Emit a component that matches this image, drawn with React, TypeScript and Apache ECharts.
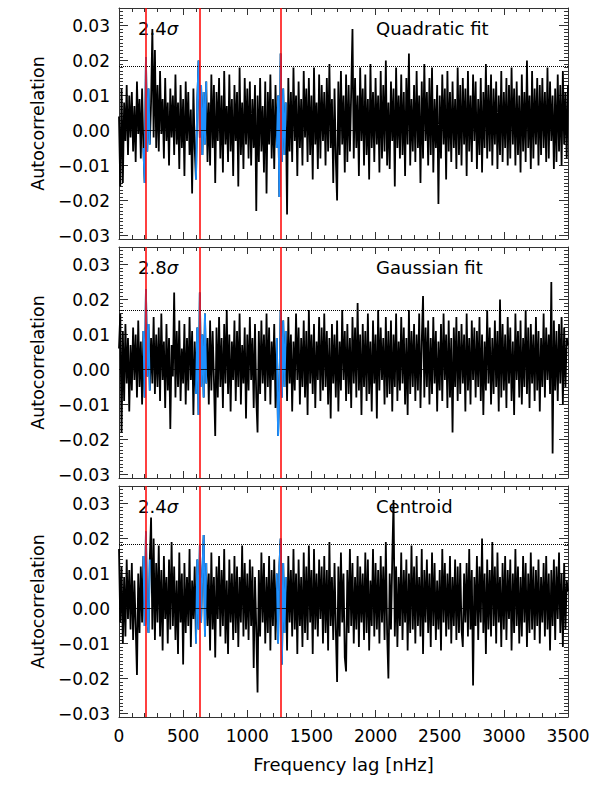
import React, { useEffect, useRef } from "react";
import * as echarts from "echarts";

// Frequency lag grid (nHz)
const LAG_START = 0;
const LAG_STEP = 10;

// Autocorrelation values in units of 1e-3, one per lag step (0 … 3500 nHz)
const QUADRATIC_MILLI = [
  4, -16, 12, -15, 8, -3, 13, -7, 10, -2,
  11, -6, 7, -9, 14, -1, 9, -8, 12, -5,
  -15, 21, -6, 12, -4, 8, 29, -2, 23, -5,
  13, -6, 17, -1, 9, -8, 15, -3, 8, -10,
  12, -2, 10, -7, 16, -4, 8, -11, 13, -5,
  9, -13, 14, -3, 11, -7, 6, -18, 12, -5,
  -14, 8, 20, -2, 13, -7, 11, -4, 14, -9,
  8, -10, 16, -5, 13, -15, 11, -3, 15, -8,
  10, -12, 17, -4, 7, -9, 16, -6, 9, -13,
  13, -3, 11, -16, 18, -7, 8, -11, 15, -4,
  12, -8, 14, -10, 9, -5, 13, -23, 10, -9,
  15, -6, 7, -12, 14, -18, 11, -4, 16, -8,
  9, -11, 13, -5, 10, -19, 22, -9, 12, -7,
  8, -24, 15, -6, 11, -9, 18, -3, 10, -13,
  14, -5, 9, -10, 17, -2, 12, -9, 15, -7,
  10, -14, 18, -4, 8, -11, 16, -8, 13, -3,
  11, -10, 15, -6, 19, -5, 9, -15, 12, -8,
  -20, 14, -7, 17, -4, 10, -12, 16, -9, 13,
  -6, 11, 29, -8, 15, -5, 10, -13, 18, -3,
  12, -10, 16, -7, 9, -14, 19, -5, 11, -9,
  15, -4, 10, -12, 17, -8, 13, -6, 20, -10,
  8, -11, 14, -3, 12, -16, 18, -5, 10, -8,
  16, -7, 11, -13, 15, -4, 22, -10, 9, -6,
  13, -9, 17, -5, 10, -15, 14, -8, 19, -3,
  11, -10, 15, -7, 18, -12, 9, -5, 13, -21,
  10, -8, 16, -4, 12, -14, 17, -6, 11, -9,
  14, -5, 9, -11, 18, -7, 13, -10, 15, -4,
  12, -13, 17, -6, 10, -9, 16, -3, 14, -11,
  9, -7, 15, -12, 11, -5, 19, -8, 13, -6,
  16, -10, 12, -4, 14, -11, 10, -7, 17, -9,
  11, -5, 15, -10, 13, -8, 18, -4, 12, -10,
  14, -7, 10, -12, 16, -6, 11, -9, 20, -5,
  10, -11, 17, -8, 12, -4, 15, -10, 13, -7,
  15, -5, 11, -9, 18, -8, 14, -3, 10, -11,
  12, -9, 16, -6, 13, -10, 17, -4, 11, -8,
  13,
];

const GAUSSIAN_MILLI = [
  6, 16, -18, 11, -9, 13, -4, 9, -12, 7,
  -6, 12, -3, 10, -8, 14, -5, 8, -10, 11,
  -8, 23, -2, 13, -6, 9, -4, 15, -7, 10,
  -5, 12, -9, 16, -3, 8, -11, 13, -6, 9,
  -17, 7, -2, 22, -8, 11, -5, 14, -9, 6,
  -4, 13, -10, 9, -6, 15, -3, 11, -13, 8,
  -7, 12, -13, 22, -5, 10, -8, 16, -4, 9,
  -10, 14, -6, 11, -3, -19, 12, -8, 15, -5,
  9, -11, 13, -4, 17, -7, 10, -12, 8, -3,
  14, -9, 11, -5, 16, -10, 7, -4, 12, -14,
  10, -6, 15, -3, 9, -11, 13, -8, -18, 11,
  -7, 14, -4, 10, -9, 16, -5, 12, -10, 8,
  -3, 13, -11, 9, -19, -6, 17, -8, 14, -5,
  11, -9, 15, -4, 10, -12, 8, -6, 16, -3,
  12, -10, 9, -5, 14, -8, 11, -13, 17, -4,
  10, -7, 13, -11, 8, -3, 15, -9, 12, -6,
  16, -5, 11, -10, 9, -14, 13, -4, 10, -8,
  14, -12, 8, -6, 17, -3, 11, -9, 13, -7,
  9, -11, 15, -4, 12, -8, 19, -6, 10, -13,
  13, -5, 11, -9, 16, -7, 8, -12, 14, -4,
  10, -14, 17, -6, 12, -3, 9, -10, 15, -8,
  11, -7, 14, -12, 10, -5, 16, -9, 8, -6,
  15, -4, 12, -10, 9, -13, 17, -7, 11, -5,
  13, -9, 10, -6, 16, -11, 8, 21, -8, 12,
  -5, 14, -10, 9, -7, 15, -4, 11, -12, 8,
  -6, 13, -9, 16, -3, 10, -11, 14, -8, 9,
  -18, 12, -5, 15, -9, 11, -7, 13, -4, 10,
  -12, 16, -6, 9, -10, 14, -3, 12, -8, 11,
  -5, 15, -9, 10, -13, 8, -6, 17, -4, 12,
  -10, 9, -7, 14, -5, 11, -12, 20, -8, 13,
  -6, 10, -11, 15, -4, 12, -9, 8, -13, 16,
  -3, 11, -8, 14, -10, 9, -5, 17, -7, 12,
  -11, 13, -4, 10, -9, 15, -6, 11, -12, 9,
  -5, 16, -8, 12, -3, 10, -7, 25, -24, 14,
  -6, 11, -9, 13, -4, 15, -10, 12, -5, 9,
  7,
];

const CENTROID_MILLI = [
  17, -4, 12, -10, 9, -8, 14, -3, 11, -6,
  13, -9, 8, -5, -19, 10, -7, 12, -4, 15,
  -5, 22, -3, -7, 14, 26, -6, 20, -9, 13,
  -4, 18, -8, 11, -12, 15, -3, 9, -10, 14,
  -6, 19, -5, 12, -9, 8, -13, 16, -4, 10,
  -16, 13, -7, 9, -5, 17, -11, 8, -3, 12,
  -10, 14, -6, 18, -4, 11, 21, -8, 13, -5,
  10, -12, 16, -6, 9, -14, 12, -3, 15, -8,
  11, -5, 17, -10, 8, -13, 14, -4, 10, -9,
  15, -7, 12, -11, 9, -4, 18, -8, 13, -6,
  10, -9, 14, -5, 12, -17, 9, -6, -24, 11,
  -8, 16, -4, 13, -10, 9, -7, 15, -12, 11,
  -5, 14, -9, 10, -10, 12, 20, -16, 13, -7,
  9, -12, 15, -4, 11, -8, 17, -6, 10, -13,
  14, -5, 9, -11, 16, -7, 12, -9, 18, -4,
  11, -13, 17, -6, 10, -8, 14, -3, 12, -10,
  15, -7, 11, -12, 19, -5, 9, -9, 13, -6,
  -21, 12, -8, 16, -4, 10, -14, -18, 11, -7,
  17, -5, 13, -10, 9, -6, 15, -11, 12, -4,
  10, -9, 16, -7, 14, -12, 8, -5, 17, -8,
  13, -6, 11, -10, 15, -4, 12, -9, 19, -7,
  -20, 10, -6, 14, 31, -8, 12, -11, 9, -5,
  16, -9, 11, -4, 14, -12, 10, -7, 18, -6,
  12, -10, 15, -5, 9, -8, 17, -13, 11, -4,
  14, -7, 10, -11, 16, -5, 13, -9, 8, -6,
  11, -12, 17, -4, 13, -8, 10, -6, 15, -10,
  9, -5, 14, -9, 12, -7, 13, -6, -11, 10,
  -4, 13, -8, 17, -6, 11, -22, 9, -5, 15,
  -9, 12, -4, 20, -7, 10, -13, 14, -6, 11,
  -8, 19, -5, 12, -10, 16, -4, 9, -11, 13,
  -6, 15, -9, 11, -3, 14, -12, 10, -7, 17,
  -5, 12, -10, 9, -8, 15, -4, 13, -11, 10,
  -7, 16, -6, 12, -9, 11, -5, 14, -10, 9,
  -4, 13, -8, 15, -6, 10, -12, 11, -5, 14,
  -9, 12, -3, 16, -7, 10, -11, 13, -6, 8,
  5,
];

const PANEL_VALUES = [QUADRATIC_MILLI, GAUSSIAN_MILLI, CENTROID_MILLI];
const PANEL_TITLES = ["Quadratic fit", "Gaussian fit", "Centroid"];
const PANEL_SIGMAS = ["2.4", "2.8", "2.4"];
const THRESHOLDS = [0.0184, 0.0169, 0.0183];
const PEAK_LAGS = [210, 630, 1260];
const BLUE_RANGES: [number, number][] = [
  [190, 240],
  [600, 680],
  [1230, 1300],
];

const X_MIN = 0;
const X_MAX = 3500;
const X_INTERVAL = 500;
const Y_MIN = -0.031;
const Y_MAX = 0.035;
const Y_MINOR = 0.001;
const Y_TICKS = [-0.03, -0.02, -0.01, 0, 0.01, 0.02, 0.03];

const X_TITLE = "Frequency lag [nHz]";
const Y_TITLE = "Autocorrelation";

// layout
const W = 598;
const H = 797;
const GRID_LEFT = 119;
const GRID_RIGHT = 30;
const GRID_TOPS = [8, 247, 486];
const GRID_HEIGHT = 231;
const FONT = "DejaVu Sans";
const AXIS_COLOR = "#333";
const BLUE = "#1e90ff";
const RED = "#ff0000";
const DATA_WIDTH = 1.8;

function fmtY(v: number) {
  const r = Math.round(v * 100) / 100;
  const s = Math.abs(r).toFixed(2);
  return r < 0 ? "\u2212" + s : s;
}

function buildOption() {
  const grid: any[] = [];
  const xAxis: any[] = [];
  const yAxis: any[] = [];
  const series: any[] = [];
  const graphic: any[] = [];

  PANEL_VALUES.forEach((vals, g) => {
    const isLast = g === PANEL_VALUES.length - 1;
    grid.push({
      left: GRID_LEFT,
      right: GRID_RIGHT,
      top: GRID_TOPS[g],
      height: GRID_HEIGHT,
      containLabel: false,
    });

    const xBase = (position: string, showLabel: boolean) => ({
      type: "value",
      gridIndex: g,
      position,
      min: X_MIN,
      max: X_MAX,
      interval: X_INTERVAL,
      axisLine: { show: true, onZero: false, lineStyle: { color: AXIS_COLOR, width: 1 } },
      axisTick: { show: true, inside: true, length: 7, lineStyle: { color: AXIS_COLOR } },
      minorTick: { show: true, splitNumber: 5, length: 4, lineStyle: { color: AXIS_COLOR } },
      axisLabel: {
        show: showLabel,
        margin: 10,
        fontSize: 17,
        fontFamily: FONT,
        color: "#000",
        showMinLabel: true,
        showMaxLabel: true,
        formatter: (v: number) => String(v),
      },
      splitLine: { show: false },
      minorSplitLine: { show: false },
      name: showLabel ? X_TITLE : "",
      nameLocation: "middle",
      nameGap: 38,
      nameTextStyle: { fontSize: 18, fontFamily: FONT, color: "#000" },
    });
    xAxis.push(xBase("bottom", isLast));
    xAxis.push(xBase("top", false));

    const yMajor = (position: string, showLabel: boolean) => ({
      type: "value",
      gridIndex: g,
      position,
      min: Y_MIN,
      max: Y_MAX,
      axisLine: { show: true, onZero: false, lineStyle: { color: AXIS_COLOR, width: 1 } },
      axisTick: {
        show: true,
        inside: true,
        length: 9,
        customValues: Y_TICKS,
        lineStyle: { color: AXIS_COLOR },
      },
      axisLabel: {
        show: showLabel,
        customValues: Y_TICKS,
        formatter: fmtY,
        margin: 9,
        fontSize: 17,
        fontFamily: FONT,
        color: "#000",
      },
      splitLine: { show: false },
      name: showLabel ? Y_TITLE : "",
      nameLocation: "middle",
      nameGap: 72,
      nameRotate: 90,
      nameTextStyle: { fontSize: 17.5, fontFamily: FONT, color: "#000" },
    });
    const yMinor = (position: string) => ({
      type: "value",
      gridIndex: g,
      position,
      min: Y_MIN,
      max: Y_MAX,
      interval: Y_MINOR,
      axisLine: { show: false, onZero: false },
      axisTick: { show: true, inside: true, length: 4, lineStyle: { color: AXIS_COLOR } },
      axisLabel: { show: false },
      splitLine: { show: false },
    });
    const yBase = yAxis.length;
    yAxis.push(yMajor("left", true));
    yAxis.push(yMinor("left"));
    yAxis.push(yMajor("right", false));
    yAxis.push(yMinor("right"));

    const xIdx = g * 2;
    const pts = vals.map((v, i) => [LAG_START + i * LAG_STEP, v / 1000]);
    const inBlue = (x: number) => BLUE_RANGES.some(([a, b]) => x >= a && x <= b);

    series.push({
      type: "line",
      xAxisIndex: xIdx,
      yAxisIndex: yBase,
      data: pts,
      showSymbol: false,
      symbol: "none",
      lineStyle: { color: "#000", width: DATA_WIDTH },
      z: 2,
      silent: true,
      markLine: {
        silent: true,
        symbol: "none",
        precision: 6,
        label: { show: false },
        emphasis: { disabled: true },
        data: [
          { yAxis: THRESHOLDS[g], lineStyle: { type: "dotted", color: "#000", width: 1 } },
          { yAxis: 0, lineStyle: { type: "solid", color: "#000", width: 0.8 } },
        ],
      },
    });
    series.push({
      type: "line",
      xAxisIndex: xIdx,
      yAxisIndex: yBase,
      data: [],
      z: 3,
      silent: true,
      markLine: {
        silent: true,
        symbol: "none",
        label: { show: false },
        emphasis: { disabled: true },
        lineStyle: { color: RED, type: "solid", width: 1.5 },
        data: PEAK_LAGS.map((x) => ({ xAxis: x })),
      },
    });
    series.push({
      type: "line",
      xAxisIndex: xIdx,
      yAxisIndex: yBase,
      data: pts.map(([x, y]) => [x, inBlue(x) ? y : "-"]),
      showSymbol: false,
      symbol: "none",
      connectNulls: false,
      lineStyle: { color: BLUE, width: DATA_WIDTH },
      z: 4,
      silent: true,
    });

    graphic.push({
      type: "text",
      left: 138,
      top: GRID_TOPS[g] + 11,
      silent: true,
      style: {
        text: `{n|${PANEL_SIGMAS[g]}}{s|\u03c3}`,
        rich: {
          n: { fontSize: 18, fontFamily: FONT, fill: "#000" },
          s: { fontSize: 18, fontFamily: FONT, fontStyle: "italic", fill: "#000" },
        },
      },
    });
    graphic.push({
      type: "text",
      left: 376,
      top: GRID_TOPS[g] + 11,
      silent: true,
      style: {
        text: PANEL_TITLES[g],
        fontSize: 18,
        fontFamily: FONT,
        fill: "#000",
      },
    });
  });

  return {
    animation: false,
    backgroundColor: "#fff",
    textStyle: { fontFamily: FONT },
    grid,
    xAxis,
    yAxis,
    series,
    graphic,
  };
}

export default function App() {
  const ref = useRef<HTMLDivElement>(null);
  useEffect(() => {
    if (!ref.current) return;
    const chart = echarts.init(ref.current, undefined, { renderer: "svg" });
    chart.setOption(buildOption() as any);
    return () => chart.dispose();
  }, []);
  return (
    <div
      ref={ref}
      style={{ position: "fixed", left: 0, top: 0, width: W, height: H, background: "#fff" }}
    />
  );
}
